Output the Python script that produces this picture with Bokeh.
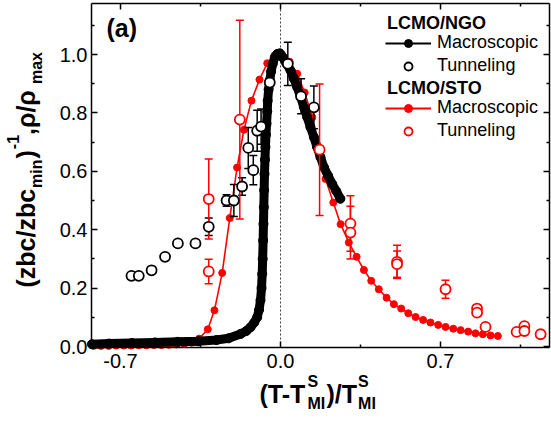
import math
from bokeh.plotting import figure
from bokeh.models import (Range1d, LinearAxis, FixedTicker, PrintfTickFormatter,
                          Label, Legend, LegendItem, ColumnDataSource)
from bokeh.embed import file_html
from bokeh.resources import INLINE

# ---------------- data ----------------
# LCMO/NGO macroscopic (rho/rho_max)
ngo_macro_x = [-0.825, -0.75, -0.65, -0.55, -0.45, -0.36, -0.28, -0.227, -0.175, -0.15,
               -0.131, -0.115, -0.102, -0.094, -0.0875, -0.083, -0.08, -0.078, -0.076, -0.0745,
               -0.073, -0.0715, -0.07, -0.068, -0.066, -0.0635, -0.061, -0.058, -0.056, -0.052,
               -0.047, -0.041, -0.034, -0.025, -0.014, -0.003, 0.01, 0.025, 0.044, 0.058,
               0.073, 0.088, 0.102, 0.117, 0.131, 0.146, 0.16, 0.175, 0.19, 0.208,
               0.226, 0.244, 0.262]
ngo_macro_y = [0.008, 0.010, 0.012, 0.014, 0.016, 0.018, 0.022, 0.028, 0.043, 0.053,
               0.066, 0.082, 0.100, 0.125, 0.158, 0.200, 0.249, 0.300, 0.363, 0.420,
               0.477, 0.535, 0.591, 0.640, 0.683, 0.725, 0.763, 0.805, 0.842, 0.880,
               0.911, 0.942, 0.968, 0.990, 1.002, 1.004, 0.990, 0.970, 0.945, 0.918,
               0.888, 0.855, 0.820, 0.785, 0.751, 0.717, 0.683, 0.648, 0.614, 0.585,
               0.557, 0.532, 0.506]

# LCMO/NGO tunneling ((zbc/zbc_min)^-1) with error
ngo_tun_x = [-0.652, -0.620, -0.564, -0.505, -0.449, -0.372, -0.314, -0.236, -0.204, -0.168,
             -0.141, -0.119, -0.102, -0.085, -0.047, 0.032, 0.090, 0.146]
ngo_tun_y = [0.242, 0.242, 0.261, 0.307, 0.353, 0.353, 0.410, 0.500, 0.500, 0.548,
             0.680, 0.604, 0.739, 0.753, 0.904, 0.968, 0.857, 0.819]
ngo_tun_err = [0, 0, 0, 0, 0, 0, 0.030, 0.020, 0.055, 0.030,
               0.070, 0.050, 0.070, 0.060, 0, 0.074, 0.060, 0.073]

# LCMO/STO macroscopic
sto_macro_x = [-0.818, -0.785, -0.752, -0.719, -0.686, -0.653, -0.620, -0.587, -0.554, -0.521,
               -0.488, -0.455, -0.422, -0.389, -0.356, -0.318, -0.289, -0.255, -0.222, -0.190,
               -0.160, -0.127, -0.092, -0.058, -0.026, 0.007, 0.040, 0.073, 0.106, 0.139,
               0.167, 0.197, 0.231, 0.263, 0.299, 0.333, 0.365, 0.397, 0.430, 0.464,
               0.496, 0.528, 0.559, 0.591, 0.624, 0.656, 0.690, 0.722, 0.756, 0.788,
               0.821, 0.853, 0.885, 0.919, 0.951]
sto_macro_y = [0.002, 0.002, 0.002, 0.003, 0.003, 0.003, 0.004, 0.004, 0.005, 0.005,
               0.006, 0.007, 0.009, 0.013, 0.027, 0.059, 0.124, 0.252, 0.440, 0.613,
               0.742, 0.842, 0.914, 0.970, 0.997, 1.000, 0.975, 0.934, 0.870, 0.785,
               0.680, 0.574, 0.493, 0.419, 0.356, 0.307, 0.262, 0.225, 0.196, 0.167,
               0.145, 0.130, 0.114, 0.101, 0.091, 0.082, 0.074, 0.067, 0.061, 0.056,
               0.051, 0.045, 0.042, 0.038, 0.036]

# LCMO/STO tunneling with error
sto_tun_x = [-0.314, -0.314, -0.178, 0.171, 0.306, 0.306, 0.510, 0.510, 0.722, 0.860,
             0.860, 0.897, 1.033, 1.067, 1.067, 1.138]
sto_tun_y = [0.505, 0.257, 0.777, 0.674, 0.421, 0.390, 0.290, 0.282, 0.196, 0.130,
             0.116, 0.067, 0.050, 0.070, 0.053, 0.042]
sto_tun_err = [0.137, 0.042, 0.340, 0.225, 0.095, 0.090, 0.057, 0.045, 0.031, 0.012,
               0.012, 0, 0, 0, 0, 0]

x_ticks = [-0.7, 0.0, 0.7]
x_minor = [-0.35, 0.35, 1.05]
y_ticks = [0.0, 0.2, 0.4, 0.6, 0.8, 1.0]
y_minor = [0.1, 0.3, 0.5, 0.7, 0.9, 1.1]

RED = "#ff0000"
BLACK = "#000000"
FONT = "Liberation Sans"

# ---------------- geometry ----------------
W, H = 551, 421
# axes box (data limits)
XMIN, XMAX = -0.827, 1.1765
YMIN, YMAX = -0.0034, 1.1747
# pixel mapping: x=0 at 280 px, 0.7 per 160 px ; y=0 at 346 px, 1.0 per 292 px
XPX = 160 / 0.7
YPX = 292.0
x_start = -280 / XPX
x_end = (W - 280) / XPX
y_start = -(H - 346) / YPX
y_end = 346 / YPX

p = figure(frame_width=W, frame_height=H,
           x_range=Range1d(x_start, x_end), y_range=Range1d(y_start, y_end),
           x_axis_type=None, y_axis_type=None,
           output_backend="svg", toolbar_location=None,
           min_border=0, min_border_left=0, min_border_right=0,
           min_border_top=0, min_border_bottom=0,
           background_fill_color="white", border_fill_color="white",
           outline_line_color=None)
p.xgrid.grid_line_color = None
p.ygrid.grid_line_color = None

xt = FixedTicker(ticks=x_ticks, minor_ticks=x_minor)
yt = FixedTicker(ticks=y_ticks, minor_ticks=y_minor)


def make_axis(ticker, loc, bounds, ticks, labels=True, standoff=5):
    ax = LinearAxis(ticker=ticker, fixed_location=loc, bounds=bounds)
    ax.formatter = PrintfTickFormatter(format="%.1f")
    ax.axis_line_width = 1.5
    ax.axis_line_color = BLACK
    ax.major_tick_in = 6
    ax.major_tick_out = 0
    ax.minor_tick_in = 3
    ax.minor_tick_out = 0
    ax.major_tick_line_width = 1.5
    ax.minor_tick_line_width = 1.5
    ax.major_tick_line_color = BLACK
    ax.minor_tick_line_color = BLACK
    ax.major_label_text_font = FONT
    ax.major_label_text_color = BLACK
    ax.major_label_text_font_size = "20px"
    ax.major_label_standoff = standoff
    if not labels:
        ax.major_label_overrides = {t: "" for t in ticks}
    return ax


p.add_layout(make_axis(xt, YMIN, (XMIN, XMAX), x_ticks, True, 7), "below")
p.add_layout(make_axis(yt, XMIN, (YMIN, YMAX), y_ticks, True, 4), "left")
p.add_layout(make_axis(xt, YMAX, (XMIN, XMAX), x_ticks, False), "above")
p.add_layout(make_axis(yt, XMAX, (YMIN, YMAX), y_ticks, False), "right")

# dotted reference line at x = 0
p.segment(x0=[0.0], y0=[YMIN], x1=[0.0], y1=[YMAX], line_color="#444444",
          line_dash="2 2", line_width=1)

# ---------------- data glyphs ----------------
p.line(sto_macro_x, sto_macro_y, line_color=RED, line_width=1.6)
p.scatter(sto_macro_x, sto_macro_y, marker="circle", size=7, fill_color=RED, line_color=RED)

p.line(ngo_macro_x, ngo_macro_y, line_color=BLACK, line_width=9, line_join="round", line_cap="round")
p.scatter(ngo_macro_x, ngo_macro_y, marker="circle", size=9, fill_color=BLACK, line_color=BLACK)


def err_source(xs, ys, es):
    bx = [x for x, e in zip(xs, es) if e > 0]
    lo = [y - e for y, e in zip(ys, es) if e > 0]
    hi = [y + e for y, e in zip(ys, es) if e > 0]
    return ColumnDataSource(dict(x=bx, lo=lo, hi=hi))


for xs, ys, es, col in [(ngo_tun_x, ngo_tun_y, ngo_tun_err, BLACK),
                        (sto_tun_x, sto_tun_y, sto_tun_err, RED)]:
    src = err_source(xs, ys, es)
    p.segment(x0="x", y0="lo", x1="x", y1="hi", source=src, line_color=col, line_width=1.5)
    p.scatter(x="x", y="lo", source=src, marker="dash", size=8, line_color=col, line_width=1.5)
    p.scatter(x="x", y="hi", source=src, marker="dash", size=8, line_color=col, line_width=1.5)

p.scatter(ngo_tun_x, ngo_tun_y, marker="circle", size=10, fill_color="white",
          line_color=BLACK, line_width=1.8)
p.scatter(sto_tun_x, sto_tun_y, marker="circle", size=10, fill_color="white",
          line_color=RED, line_width=1.8)

# ---------------- legends ----------------
NAN = [float("nan")]
lg_ngo_line = p.line(NAN, NAN, line_color=BLACK, line_width=2)
lg_ngo_pt = p.scatter(NAN, NAN, marker="circle", size=10, fill_color=BLACK, line_color=BLACK)
lg_ngo_open = p.scatter(NAN, NAN, marker="circle", size=10, fill_color="white",
                        line_color=BLACK, line_width=1.8)
lg_sto_line = p.line(NAN, NAN, line_color=RED, line_width=2)
lg_sto_pt = p.scatter(NAN, NAN, marker="circle", size=10, fill_color=RED, line_color=RED)
lg_sto_open = p.scatter(NAN, NAN, marker="circle", size=10, fill_color="white",
                        line_color=RED, line_width=1.8)


def make_legend(items, loc):
    return Legend(items=items, location=loc, orientation="vertical",
                  glyph_width=46, glyph_height=20, label_standoff=6, label_height=20,
                  spacing=2, padding=0, margin=0, border_line_alpha=0,
                  background_fill_alpha=0, label_text_font=FONT,
                  label_text_font_size="18px", label_text_color=BLACK)


p.add_layout(make_legend([LegendItem(label="Macroscopic", renderers=[lg_ngo_line, lg_ngo_pt]),
                          LegendItem(label="Tunneling", renderers=[lg_ngo_open])],
                         (385, H - 76)))
p.add_layout(make_legend([LegendItem(label="Macroscopic", renderers=[lg_sto_line, lg_sto_pt]),
                          LegendItem(label="Tunneling", renderers=[lg_sto_open])],
                         (385, H - 141)))


def lab(text, cx, cy, size, bold=True, angle=0.0, align="left", baseline="middle"):
    p.add_layout(Label(x=cx, y=H - cy, x_units="screen", y_units="screen",
                       text=text, text_font=FONT, text_font_size=size,
                       text_font_style="bold" if bold else "normal",
                       text_color=BLACK, angle=angle, text_align=align,
                       text_baseline=baseline))


lab("LCMO/NGO", 386.5, 22, "18px")
lab("LCMO/STO", 386.5, 87.5, "18px")
lab("(a)", 106, 27, "25px")

# x-axis title: (T-T^S_MI)/T^S_MI
xm = 393.0    # centre line of main text
lab("(T-T", 259, xm, "25px")
lab("S", 307, xm - 12, "16px")
lab("MI", 307, xm + 10, "16px")
lab(")/T", 326, xm, "25px")
lab("S", 357.6, xm - 12, "16px")
lab("MI", 357.6, xm + 10, "16px")

# y-axis title: (zbc/zbc_min)^-1 ,rho/rho_max  (rotated, reads upward)
A = math.pi / 2
ym = 25.5     # centre line of main text
lab("(zbc/zbc", ym, 287, "25px", angle=A)
lab("min", ym + 10, 187.4, "16px", angle=A)
lab(")", ym, 158, "25px", angle=A)
lab("-1", ym - 13, 148.7, "16px", angle=A)
lab(" ,\u03c1/\u03c1", ym, 134.5, "25px", angle=A)
lab("max", ym + 10, 83.5, "16px", angle=A)

open("out.html", "w").write(file_html(p, INLINE))
